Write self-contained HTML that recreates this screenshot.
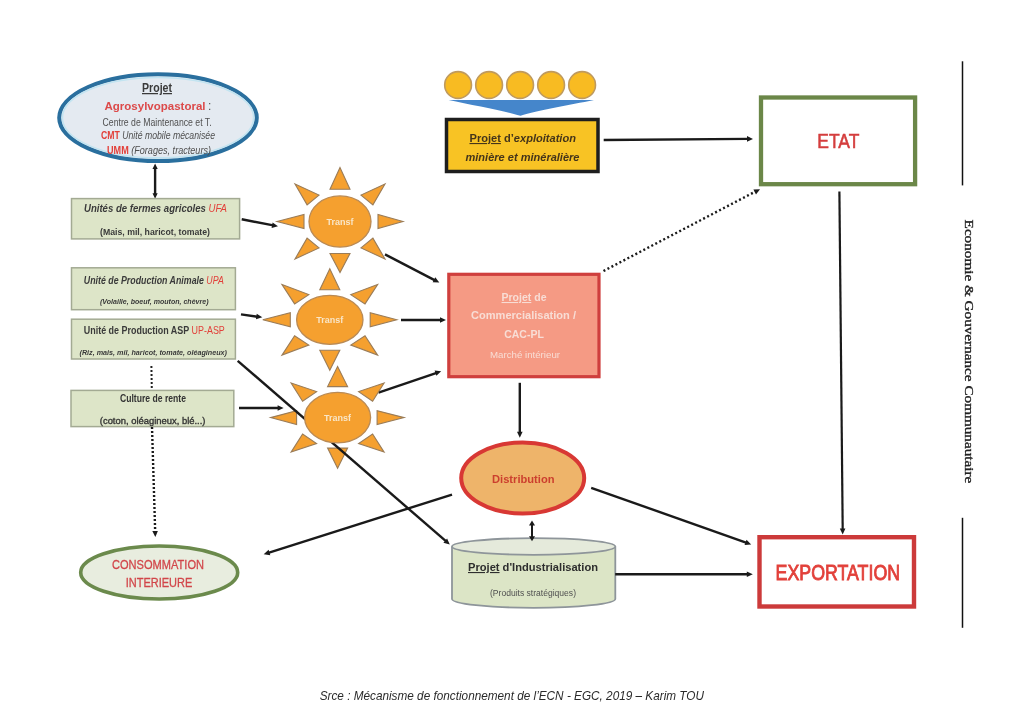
<!DOCTYPE html>
<html><head><meta charset="utf-8"><style>
html,body{margin:0;padding:0;background:#fff;width:1024px;height:719px;overflow:hidden}
svg{display:block;font-family:"Liberation Sans", sans-serif;filter:blur(0.45px)}
</style></head><body>
<svg width="1024" height="719" viewBox="0 0 1024 719">
<rect width="1024" height="719" fill="#fff"/>
<ellipse cx="158" cy="117.7" rx="98.8" ry="43.4" fill="#e4eaf1" stroke="#2a6f9e" stroke-width="4"/><ellipse cx="158" cy="117.7" rx="95.6" ry="40.2" fill="none" stroke="#c2e4f1" stroke-width="1.6"/>
<text x="157" y="92" text-anchor="middle" font-size="12.5" font-weight="bold" fill="#3a3a3a" text-decoration="underline" textLength="30" lengthAdjust="spacingAndGlyphs">Projet</text>
<text x="104.5" y="110" font-size="11.5" font-weight="bold" fill="#dc4a4a" textLength="101" lengthAdjust="spacing">Agrosylvopastoral</text><text x="208" y="110" font-size="12" fill="#555">:</text>
<text x="102.6" y="125.5" font-size="10.5" fill="#505050" textLength="109" lengthAdjust="spacingAndGlyphs">Centre de Maintenance et T.</text>
<text x="101" y="139" font-size="10.5" fill="#505050" textLength="114" lengthAdjust="spacingAndGlyphs"><tspan fill="#e2403a" font-weight="bold">CMT</tspan> <tspan font-style="italic">Unité mobile mécanisée</tspan></text>
<text x="107" y="154" font-size="10.5" fill="#505050" textLength="104" lengthAdjust="spacingAndGlyphs"><tspan fill="#e2403a" font-weight="bold">UMM</tspan> <tspan font-style="italic">(Forages, tracteurs)</tspan></text>
<line x1="155.1" y1="167.9" x2="155.1" y2="194.4" stroke="#1a1a1a" stroke-width="2.4"/>
<polygon points="155.1,198.8 152.5,193.3 157.7,193.3" fill="#1a1a1a"/>
<polygon points="155.1,163.5 152.5,169.0 157.7,169.0" fill="#1a1a1a"/>
<rect x="71.5" y="198.6" width="168.1" height="40.30000000000001" fill="#dde5c8" stroke="#a3aa93" stroke-width="1.5"/>
<text x="84" y="212" font-size="10" font-style="italic" font-weight="bold" fill="#3a3a3a" textLength="143" lengthAdjust="spacingAndGlyphs">Unités  de  fermes  agricoles <tspan fill="#e2403a" font-weight="normal">UFA</tspan></text>
<text x="100" y="234.5" font-size="8.5" font-weight="bold" fill="#3a3a3a" textLength="110" lengthAdjust="spacingAndGlyphs">(Mais, mil, haricot, tomate)</text>
<rect x="71.5" y="267.8" width="163.9" height="41.89999999999998" fill="#dde5c8" stroke="#a3aa93" stroke-width="1.5"/>
<text x="83.8" y="283.5" font-size="10" font-style="italic" fill="#3a3a3a" font-weight="bold" textLength="140" lengthAdjust="spacingAndGlyphs">Unité de Production Animale <tspan fill="#e2403a" font-weight="normal">UPA</tspan></text>
<text x="100" y="303.8" font-size="8" font-style="italic" font-weight="bold" fill="#3a3a3a" textLength="108.5" lengthAdjust="spacingAndGlyphs">(Volaille, boeuf, mouton, chèvre)</text>
<rect x="71.5" y="319.2" width="163.9" height="39.80000000000001" fill="#dde5c8" stroke="#a3aa93" stroke-width="1.5"/>
<text x="83.8" y="333.5" font-size="10" fill="#3a3a3a" font-weight="bold" textLength="141" lengthAdjust="spacingAndGlyphs">Unité de Production ASP <tspan fill="#e2403a" font-weight="normal">UP-ASP</tspan></text>
<text x="79.5" y="355" font-size="8" font-style="italic" font-weight="bold" fill="#3a3a3a" textLength="147.5" lengthAdjust="spacingAndGlyphs">(Riz, mais, mil, haricot, tomate, oléagineux)</text>
<rect x="71" y="390.4" width="162.8" height="36.200000000000045" fill="#dde5c8" stroke="#a3aa93" stroke-width="1.5"/>
<text x="120" y="402.3" font-size="11.5" fill="#333" font-weight="bold" textLength="66" lengthAdjust="spacingAndGlyphs">Culture de rente</text>
<text x="99.8" y="423.5" font-size="9.5" fill="#333" stroke="#333" stroke-width="0.35" textLength="105.7" lengthAdjust="spacingAndGlyphs">(coton, oléagineux, blé...)</text>
<line x1="151.4" y1="366" x2="151.8" y2="390" stroke="#222" stroke-width="2" stroke-dasharray="2,2"/>
<line x1="152.0" y1="427.0" x2="155.2" y2="532.2" stroke="#1a1a1a" stroke-width="2.4" stroke-dasharray="2,2"/>
<polygon points="155.3,537.0 152.3,531.1 157.9,530.9" fill="#1a1a1a"/>
<ellipse cx="159.2" cy="572.5" rx="78.5" ry="26.5" fill="#e8eddf" stroke="#6b8a4c" stroke-width="3.6"/>
<text x="112" y="569" font-size="13.2" fill="#d2464a" stroke="#d2464a" stroke-width="0.3" textLength="92" lengthAdjust="spacingAndGlyphs">CONSOMMATION</text>
<text x="125.8" y="586.5" font-size="13.2" fill="#d2464a" stroke="#d2464a" stroke-width="0.3" textLength="66.5" lengthAdjust="spacingAndGlyphs">INTERIEURE</text>
<line x1="241.7" y1="219.3" x2="273.3" y2="225.4" stroke="#1a1a1a" stroke-width="2.4"/>
<polygon points="278.0,226.3 271.6,227.9 272.6,222.4" fill="#1a1a1a"/>
<line x1="241.0" y1="314.4" x2="257.5" y2="316.7" stroke="#1a1a1a" stroke-width="2.4"/>
<polygon points="262.3,317.3 256.0,319.3 256.7,313.7" fill="#1a1a1a"/>
<line x1="239.0" y1="408.0" x2="278.8" y2="408.0" stroke="#1a1a1a" stroke-width="2.4"/>
<polygon points="283.6,408.0 277.6,410.8 277.6,405.2" fill="#1a1a1a"/>
<line x1="385.0" y1="254.4" x2="435.0" y2="280.4" stroke="#1a1a1a" stroke-width="2.4"/>
<polygon points="439.3,282.6 432.7,282.3 435.3,277.3" fill="#1a1a1a"/>
<line x1="401.0" y1="320.0" x2="441.2" y2="320.0" stroke="#1a1a1a" stroke-width="2.4"/>
<polygon points="446.0,320.0 440.0,322.8 440.0,317.2" fill="#1a1a1a"/>
<line x1="378.5" y1="392.6" x2="436.7" y2="372.8" stroke="#1a1a1a" stroke-width="2.4"/>
<polygon points="441.2,371.2 436.4,375.8 434.6,370.5" fill="#1a1a1a"/>
<line x1="452.0" y1="494.6" x2="268.3" y2="552.8" stroke="#1a1a1a" stroke-width="2.4"/>
<polygon points="263.7,554.3 268.6,549.8 270.3,555.2" fill="#1a1a1a"/>
<polygon points="340.0,167.5 330.0,189.2 350.0,189.2" fill="#f5a02f" stroke="#9a7c58" stroke-width="1.1"/>
<polygon points="340.0,272.5 330.0,253.5 350.0,253.5" fill="#f5a02f" stroke="#9a7c58" stroke-width="1.1"/>
<polygon points="277.0,221.5 304.0,214.5 304.0,228.5" fill="#f5a02f" stroke="#9a7c58" stroke-width="1.1"/>
<polygon points="403.0,221.5 378.0,214.5 378.0,228.5" fill="#f5a02f" stroke="#9a7c58" stroke-width="1.1"/>
<polygon points="295.0,184.0 319.0,195.1 307.1,204.9" fill="#f5a02f" stroke="#9a7c58" stroke-width="1.1"/>
<polygon points="385.0,184.0 361.0,195.1 372.9,204.9" fill="#f5a02f" stroke="#9a7c58" stroke-width="1.1"/>
<polygon points="295.0,259.0 307.1,238.1 319.0,247.9" fill="#f5a02f" stroke="#9a7c58" stroke-width="1.1"/>
<polygon points="385.0,259.0 372.9,238.1 361.0,247.9" fill="#f5a02f" stroke="#9a7c58" stroke-width="1.1"/>

<ellipse cx="340" cy="221.5" rx="31" ry="25.6" fill="#f5a02f" stroke="#b98a55" stroke-width="1.3"/>
<text x="340" y="224.5" text-anchor="middle" font-size="9.5" font-weight="bold" fill="#f9e6c8" textLength="27" lengthAdjust="spacingAndGlyphs">Transf</text>
<polygon points="329.8,268.8 319.8,289.8 339.8,289.8" fill="#f5a02f" stroke="#9a7c58" stroke-width="1.1"/>
<polygon points="329.8,370.2 319.8,350.3 339.8,350.3" fill="#f5a02f" stroke="#9a7c58" stroke-width="1.1"/>
<polygon points="262.8,319.8 290.3,312.8 290.3,326.8" fill="#f5a02f" stroke="#9a7c58" stroke-width="1.1"/>
<polygon points="396.8,319.8 370.2,312.8 370.2,326.8" fill="#f5a02f" stroke="#9a7c58" stroke-width="1.1"/>
<polygon points="282.0,284.5 308.8,294.6 294.6,303.9" fill="#f5a02f" stroke="#9a7c58" stroke-width="1.1"/>
<polygon points="377.6,284.5 350.8,294.6 365.0,303.9" fill="#f5a02f" stroke="#9a7c58" stroke-width="1.1"/>
<polygon points="282.0,355.1 294.6,335.7 308.8,345.0" fill="#f5a02f" stroke="#9a7c58" stroke-width="1.1"/>
<polygon points="377.6,355.1 365.0,335.7 350.8,345.0" fill="#f5a02f" stroke="#9a7c58" stroke-width="1.1"/>

<ellipse cx="329.8" cy="319.8" rx="33.2" ry="24.5" fill="#f5a02f" stroke="#b98a55" stroke-width="1.3"/>
<text x="329.8" y="322.8" text-anchor="middle" font-size="9.5" font-weight="bold" fill="#f9e6c8" textLength="27" lengthAdjust="spacingAndGlyphs">Transf</text>
<polygon points="337.6,366.6 327.6,386.6 347.6,386.6" fill="#f5a02f" stroke="#9a7c58" stroke-width="1.1"/>
<polygon points="337.6,468.2 327.6,448.1 347.6,448.1" fill="#f5a02f" stroke="#9a7c58" stroke-width="1.1"/>
<polygon points="270.6,417.6 296.6,410.6 296.6,424.6" fill="#f5a02f" stroke="#9a7c58" stroke-width="1.1"/>
<polygon points="404.1,417.6 377.1,410.6 377.1,424.6" fill="#f5a02f" stroke="#9a7c58" stroke-width="1.1"/>
<polygon points="291.1,383.1 316.6,391.6 302.6,401.2" fill="#f5a02f" stroke="#9a7c58" stroke-width="1.1"/>
<polygon points="384.1,383.1 358.6,391.6 372.6,401.2" fill="#f5a02f" stroke="#9a7c58" stroke-width="1.1"/>
<polygon points="291.1,452.1 302.6,434.0 316.6,443.6" fill="#f5a02f" stroke="#9a7c58" stroke-width="1.1"/>
<polygon points="384.1,452.1 372.6,434.0 358.6,443.6" fill="#f5a02f" stroke="#9a7c58" stroke-width="1.1"/>

<line x1="237.7" y1="360.8" x2="446.2" y2="541.4" stroke="#1a1a1a" stroke-width="2.4"/>
<polygon points="449.8,544.5 443.4,542.7 447.1,538.5" fill="#1a1a1a"/>

<ellipse cx="337.6" cy="417.6" rx="33" ry="25.2" fill="#f5a02f" stroke="#b98a55" stroke-width="1.3"/>
<text x="337.6" y="420.6" text-anchor="middle" font-size="9.5" font-weight="bold" fill="#f9e6c8" textLength="27" lengthAdjust="spacingAndGlyphs">Transf</text>
<circle cx="458.1" cy="85" r="13.4" fill="#f8bb22" stroke="#bf9a5e" stroke-width="1.6"/>
<circle cx="489.1" cy="85" r="13.4" fill="#f8bb22" stroke="#bf9a5e" stroke-width="1.6"/>
<circle cx="520.1" cy="85" r="13.4" fill="#f8bb22" stroke="#bf9a5e" stroke-width="1.6"/>
<circle cx="551.1" cy="85" r="13.4" fill="#f8bb22" stroke="#bf9a5e" stroke-width="1.6"/>
<circle cx="582.1" cy="85" r="13.4" fill="#f8bb22" stroke="#bf9a5e" stroke-width="1.6"/>
<path d="M448.6,100 L594,100 C570,105 537,110.5 520.5,115.8 C504,110.5 471,105 448.6,100 Z" fill="#4586cb"/>
<rect x="446.5" y="119.5" width="151.5" height="52" fill="#f8c324" stroke="#1e1e1e" stroke-width="3.5"/>
<text x="469.5" y="142" font-size="11" font-weight="bold" fill="#45351a" textLength="106.5" lengthAdjust="spacingAndGlyphs"><tspan text-decoration="underline">Projet</tspan> d’<tspan font-style="italic">exploitation</tspan></text>
<text x="465.5" y="160.5" font-size="11" font-weight="bold" font-style="italic" fill="#45351a" textLength="114" lengthAdjust="spacingAndGlyphs">minière et minéralière</text>
<line x1="603.7" y1="140.0" x2="748.2" y2="138.9" stroke="#1a1a1a" stroke-width="2.4"/>
<polygon points="753.0,138.9 747.0,141.7 747.0,136.1" fill="#1a1a1a"/>
<line x1="603.5" y1="271.0" x2="755.7" y2="191.4" stroke="#1a1a1a" stroke-width="2.4" stroke-dasharray="2,2.5"/>
<polygon points="760.0,189.2 756.0,194.5 753.4,189.5" fill="#1a1a1a"/>
<rect x="448.8" y="274.3" width="150.2" height="102.4" fill="#f59a84" stroke="#cf3f3d" stroke-width="3.2"/>
<text x="524" y="301" text-anchor="middle" font-size="10.5" font-weight="bold" fill="#f8ddd5"><tspan text-decoration="underline">Projet</tspan> de</text>
<text x="471" y="319" font-size="10.5" font-weight="bold" fill="#f8ddd5" textLength="105" lengthAdjust="spacingAndGlyphs">Commercialisation /</text>
<text x="524" y="338" text-anchor="middle" font-size="10.5" font-weight="bold" fill="#f8ddd5">CAC-PL</text>
<text x="490" y="358" font-size="8.5" fill="#f8ddd5" textLength="70" lengthAdjust="spacingAndGlyphs">Marché intérieur</text>
<line x1="519.8" y1="382.8" x2="519.8" y2="433.0" stroke="#1a1a1a" stroke-width="2.4"/>
<polygon points="519.8,437.8 517.0,431.8 522.6,431.8" fill="#1a1a1a"/>
<ellipse cx="522.7" cy="478" rx="61.5" ry="35.5" fill="#eeb46a" stroke="#d83834" stroke-width="4"/>
<text x="492" y="483" font-size="11" font-weight="bold" fill="#cc3f2e" textLength="62.5" lengthAdjust="spacingAndGlyphs">Distribution</text>
<path d="M452,546.5 L452,599 A81.6,8.8 0 0 0 615.3,599 L615.3,546.5" fill="#dce5c6" stroke="#8e959a" stroke-width="1.8"/>
<ellipse cx="533.65" cy="546.5" rx="81.65" ry="8.3" fill="#e5eadb" stroke="#8e959a" stroke-width="1.8"/>
<text x="468" y="571" font-size="11" font-weight="bold" fill="#2e2e2e" textLength="130" lengthAdjust="spacingAndGlyphs"><tspan text-decoration="underline">Projet</tspan> d'Industrialisation</text>
<text x="490" y="596" font-size="9" fill="#505050" textLength="86" lengthAdjust="spacingAndGlyphs">(Produits stratégiques)</text>
<line x1="532.0" y1="524.4" x2="532.0" y2="537.2" stroke="#1a1a1a" stroke-width="2"/>
<polygon points="532.0,541.2 529.0,536.2 535.0,536.2" fill="#1a1a1a"/>
<polygon points="532.0,520.4 529.0,525.4 535.0,525.4" fill="#1a1a1a"/>
<line x1="591.2" y1="487.8" x2="746.7" y2="542.8" stroke="#1a1a1a" stroke-width="2.4"/>
<polygon points="751.2,544.4 744.6,545.0 746.5,539.8" fill="#1a1a1a"/>
<line x1="615.2" y1="574.3" x2="748.0" y2="574.3" stroke="#1a1a1a" stroke-width="2.4"/>
<polygon points="752.8,574.3 746.8,577.1 746.8,571.5" fill="#1a1a1a"/>
<line x1="839.4" y1="191.6" x2="842.7" y2="529.7" stroke="#1a1a1a" stroke-width="2.2"/>
<polygon points="842.7,534.5 839.8,528.5 845.4,528.5" fill="#1a1a1a"/>
<rect x="761" y="97.5" width="154.1" height="86.7" fill="#ffffff" stroke="#6b8748" stroke-width="4.3"/>
<text x="817.3" y="148.4" font-size="21" fill="#d43d3d" stroke="#d43d3d" stroke-width="0.6" textLength="42" lengthAdjust="spacingAndGlyphs">ETAT</text>
<rect x="759.5" y="537.2" width="154.5" height="69.3" fill="#ffffff" stroke="#cc3a3a" stroke-width="4.4"/>
<text x="775.6" y="580.4" font-size="22.5" fill="#e2403a" stroke="#e2403a" stroke-width="0.9" textLength="124.5" lengthAdjust="spacingAndGlyphs">EXPORTATION</text>
<line x1="962.5" y1="61.3" x2="962.5" y2="185.4" stroke="#111" stroke-width="1.5"/>
<line x1="962.5" y1="517.8" x2="962.5" y2="627.8" stroke="#111" stroke-width="1.5"/>
<text transform="translate(965,219.6) rotate(90)" font-family='"Liberation Serif", serif' font-size="13.5" fill="#222" stroke="#222" stroke-width="0.35" textLength="263.7" lengthAdjust="spacingAndGlyphs">Economie &amp; Gouvernance Communautaire</text>
<text x="319.7" y="700" font-size="13" font-style="italic" fill="#2a2a2a" textLength="384.3" lengthAdjust="spacingAndGlyphs">Srce : Mécanisme de fonctionnement de l’ECN - EGC, 2019 – Karim TOU</text>
</svg></body></html>
